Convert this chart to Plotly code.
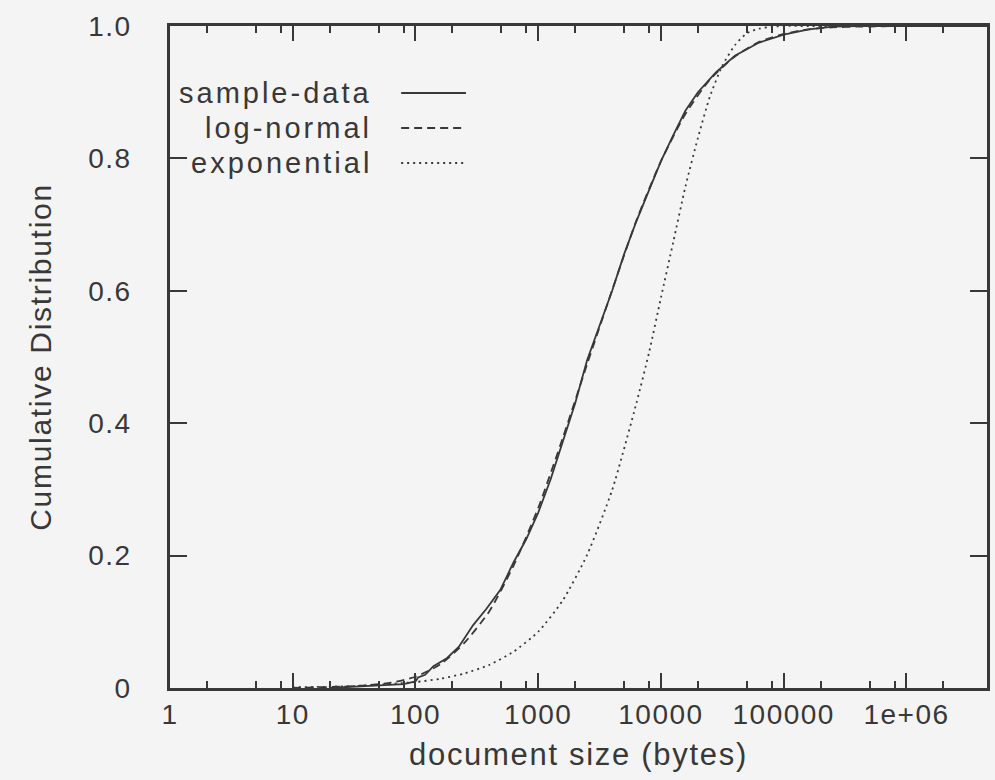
import plotly.graph_objects as go

# Empirical distribution of document sizes (bytes -> cumulative fraction)
sample_size = [20, 25, 40, 63, 80, 100, 105, 120, 140, 180, 225, 295, 380, 490,
               630, 800, 1000, 1260, 1580, 2000, 2500, 3150, 4000, 5000, 6300,
               8000, 10000, 12600, 15800, 20000, 28000, 40000, 63000, 100000,
               160000, 250000, 400000, 1000000, 5000000]
sample_cdf = [0.000, 0.001, 0.002, 0.004, 0.006, 0.010, 0.016, 0.020, 0.033,
              0.045, 0.062, 0.095, 0.120, 0.148, 0.190, 0.225, 0.265, 0.315,
              0.370, 0.430, 0.495, 0.548, 0.600, 0.655, 0.705, 0.752, 0.796,
              0.835, 0.872, 0.900, 0.930, 0.955, 0.975, 0.987, 0.995, 0.999,
              1.000, 1.000, 1.000]

# Fitted log-normal model
lognorm_size = [10, 25, 40, 63, 100, 160, 250, 400, 630, 1000, 1580, 2500, 4000,
                6300, 10000, 15800, 25000, 40000, 63000, 100000, 160000, 250000,
                400000, 1000000, 5000000]
lognorm_cdf = [0.0003, 0.002, 0.004, 0.008, 0.017, 0.036, 0.068, 0.116, 0.185,
               0.272, 0.377, 0.489, 0.601, 0.706, 0.796, 0.867, 0.919, 0.954,
               0.976, 0.988, 0.995, 0.998, 0.999, 1.000, 1.000]

# Fitted exponential model
expo_size = [10, 32, 100, 160, 250, 400, 630, 1000, 1580, 2500, 4000, 6300, 8000,
             10000, 12600, 15800, 20000, 25000, 31600, 40000, 50000, 63000, 80000,
             100000, 160000, 1000000, 5000000]
expo_cdf = [0.001, 0.003, 0.009, 0.014, 0.022, 0.035, 0.055, 0.085, 0.132, 0.201,
            0.299, 0.430, 0.507, 0.590, 0.674, 0.757, 0.831, 0.893, 0.940, 0.971,
            0.989, 0.996, 0.999, 1.000, 1.000, 1.000, 1.000]

x_tick_vals = [1, 10, 100, 1000, 10000, 100000, 1000000]
x_tick_text = ["1", "10", "100", "1000", "10000", "100000", "1e+06"]
y_tick_vals = [0, 0.2, 0.4, 0.6, 0.8, 1.0]
y_tick_text = ["0", "0.2", "0.4", "0.6", "0.8", "1.0"]
series_names = ["sample-data", "log-normal", "exponential"]

INK = "#383838"
BG = "#f5f4f4"
FONT = "Liberation Sans, Arial, sans-serif"


def spaced(text, px):
    return f'<span style="letter-spacing:{px}px">{text}</span>'


# minor log ticks at 2, 5 and 8 within each decade
minor_vals = []
for d in range(7):
    for m in (2, 5, 8):
        minor_vals.append(m * 10 ** d)

fig = go.Figure()
styles = [dict(dash="solid"), dict(dash="8px,5px"), dict(dash="2px,4px")]
data = [(sample_size, sample_cdf, "linear"),
        (lognorm_size, lognorm_cdf, "spline"),
        (expo_size, expo_cdf, "spline")]
for (xs, ys, shape), st, name in zip(data, styles, series_names):
    fig.add_trace(go.Scatter(
        x=xs, y=ys, mode="lines", name=name, showlegend=False,
        line=dict(color=INK, width=1.8, dash=st["dash"], shape=shape,
                  smoothing=0.6 if shape == "spline" else None),
    ))

# legend: right-aligned labels followed by a line sample
legend_y = [93, 128, 163]
for name, yy, st in zip(series_names, legend_y, styles):
    fig.add_annotation(
        xref="paper", yref="paper", x=(375 - 170) / 820, y=1 - (yy - 26) / 662,
        xanchor="right", yanchor="middle", showarrow=False,
        text=spaced(name, 3), font=dict(family=FONT, size=29, color=INK),
    )
    fig.add_shape(
        type="line", xref="paper", yref="paper",
        x0=(402 - 170) / 820, x1=(467 - 170) / 820,
        y0=1 - (yy - 26) / 662, y1=1 - (yy - 26) / 662,
        line=dict(color=INK, width=1.8, dash=st["dash"]),
    )

fig.update_xaxes(
    type="log", range=[0, 6.656],
    tickmode="array", tickvals=x_tick_vals,
    ticktext=[spaced(t, 1.5) for t in x_tick_text],
    ticks="inside", ticklen=15, tickwidth=2, tickcolor=INK,
    minor=dict(tickmode="array", tickvals=minor_vals, ticks="inside",
               ticklen=7, tickwidth=2, tickcolor=INK),
    showline=True, linecolor=INK, linewidth=2.5, mirror="ticks",
    showgrid=False, zeroline=False,
    tickfont=dict(family=FONT, size=28, color=INK),
    title=dict(text=spaced("document size (bytes)", 1.7),
               font=dict(family=FONT, size=31, color=INK), standoff=14),
)
fig.update_yaxes(
    range=[0, 1], tickmode="array", tickvals=y_tick_vals,
    ticktext=[spaced(t, 1.5) for t in y_tick_text],
    ticks="inside", ticklen=17, tickwidth=2, tickcolor=INK,
    showline=True, linecolor=INK, linewidth=2.5, mirror="ticks",
    showgrid=False, zeroline=False, ticklabelstandoff=30,
    tickfont=dict(family=FONT, size=28, color=INK),
    title=dict(text=spaced("Cumulative Distribution", 1.7),
               font=dict(family=FONT, size=30, color=INK), standoff=28),
)
fig.update_layout(
    width=995, height=780,
    margin=dict(l=170, r=5, t=26, b=92),
    paper_bgcolor=BG, plot_bgcolor=BG,
    showlegend=False,
)
fig.write_html("out.html")
